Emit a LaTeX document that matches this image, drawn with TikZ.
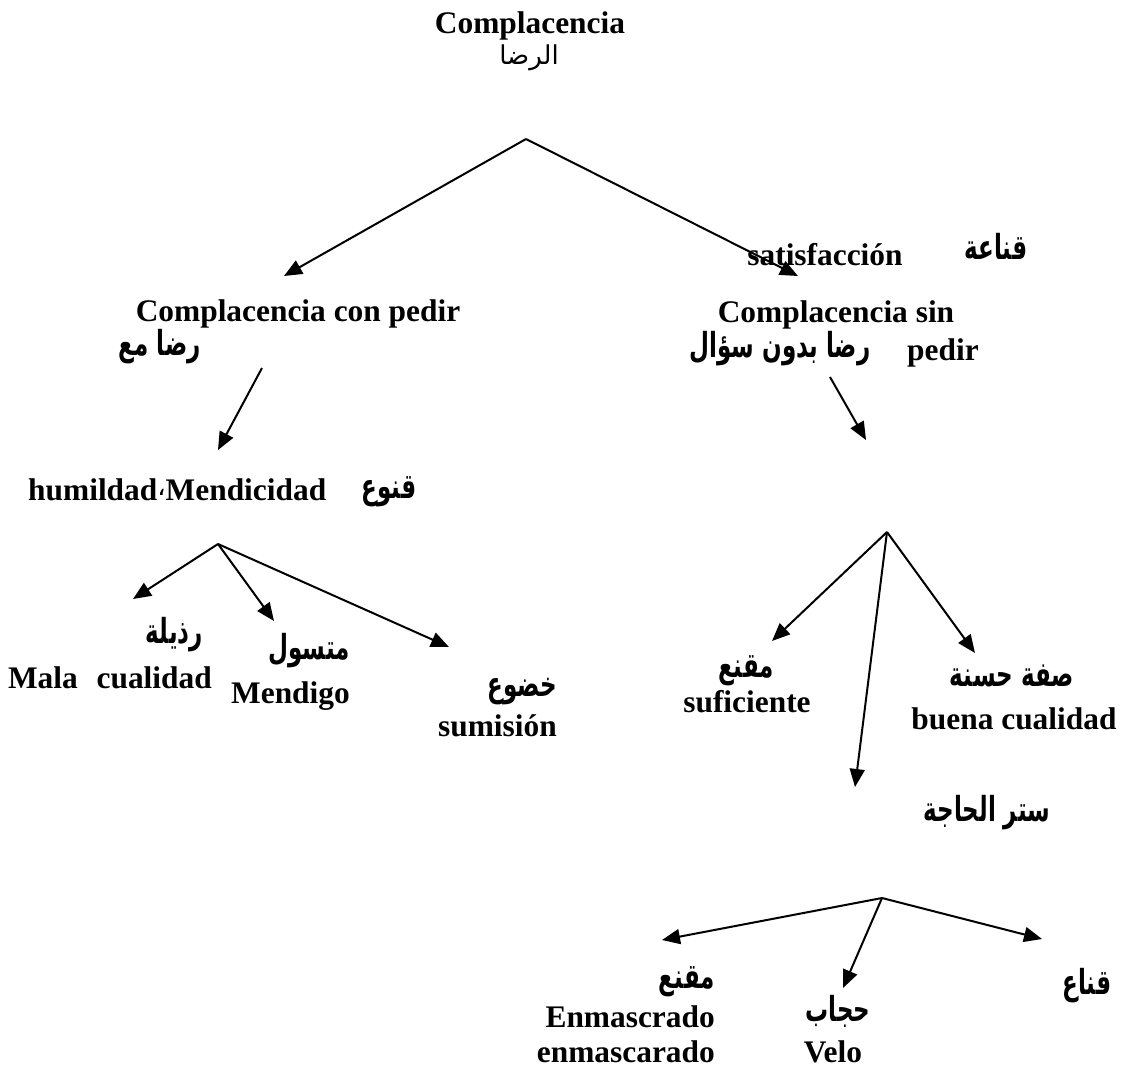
\documentclass[tikz,border=0pt]{standalone}
\usepackage{fontspec}
\usepackage{graphicx}
\setmainfont{Liberation Serif}
\newfontfamily\arabicfont[Script=Arabic]{DejaVu Sans}
\TeXXeTstate=1
\usetikzlibrary{arrows.meta}
\newcommand{\ar}[1]{\scalebox{1}[1.5]{\arabicfont\fontsize{23pt}{26pt}\selectfont\bfseries\beginR #1\endR}}
\newcommand{\arreg}[1]{{\arabicfont\fontsize{26pt}{30pt}\selectfont\beginR #1\endR}}
\begin{document}
\begin{tikzpicture}[x=1pt,y=-1pt,
  lat/.style={font=\fontsize{31.4pt}{36pt}\selectfont\bfseries, inner sep=0pt, anchor=base},
  latr/.style={lat, anchor=base east},
  arb/.style={inner sep=0pt, anchor=base},
  arbr/.style={arb, anchor=base east},
  conn/.style={line width=2pt, -{Triangle[length=18pt,width=15pt]}}]
\useasboundingbox (0,0) rectangle (1128,1069);
% texts
\node[lat] (root) at (530,33) {Complacencia};
\node[arb] (rootar) at (529,64) {\arreg{الرضا}};
\node[lat] (satis) at (825,265) {satisfacción};
\node[arb] (qanaa) at (996,259) {\ar{قناعة}};
\node[lat] (conped) at (298,321) {Complacencia con pedir};
\node[arb] (ridama) at (160,355) {\ar{رضا مع}};
\node[lat] (sinped) at (836,322) {Complacencia sin};
\node[arb] (ridabidun) at (780,357) {\ar{رضا بدون سؤال}};
\node[lat] (pedir) at (943,360) {pedir};
\node[lat, anchor=base west] (humil) at (28,500) {humildad\raisebox{5pt}{\arabicfont\mdseries\fontsize{26pt}{30pt}\selectfont ،}Mendicidad};
\node[arb] (qunu) at (389,498) {\ar{قنوع}};
\node[arbr] (radhila) at (203,643) {\ar{رذيلة}};
\node[latr] (mala) at (212,688) {Mala\hspace{0.6em}cualidad};
\node[arbr] (mutasawil) at (350,659) {\ar{متسول}};
\node[latr] (mendigo) at (350,703) {Mendigo};
\node[arbr] (khudu) at (557,696) {\ar{خضوع}};
\node[latr] (sumision) at (557,736) {sumisión};
\node[arb] (muqni) at (746,677) {\ar{مقنع}};
\node[lat] (sufi) at (747,712) {suficiente};
\node[arb] (sifa) at (1012,686) {\ar{صفة حسنة}};
\node[lat] (buena) at (1014,729) {buena cualidad};
\node[arb] (satr) at (987,821) {\ar{ستر الحاجة}};
\node[arbr] (muqanna) at (715,988) {\ar{مقنع}};
\node[latr] (enmas1) at (715,1027) {Enmascrado};
\node[latr] (enmas2) at (715,1062) {enmascarado};
\node[arb] (hijab) at (838,1021) {\ar{حجاب}};
\node[lat] (velo) at (833,1062) {Velo};
\node[arb] (qina) at (1087,994) {\ar{قناع}};
% connector points
\coordinate (aTop) at (526,139);
\coordinate (tL1) at (284,276);
\coordinate (tR1) at (798,276);
\coordinate (sL2) at (262,368);
\coordinate (tL2) at (218,450);
\coordinate (sR2) at (830,377);
\coordinate (tR2) at (866,440);
\coordinate (aL) at (218,544);
\coordinate (tLa) at (133,599);
\coordinate (tLb) at (274,621);
\coordinate (tLc) at (449,647);
\coordinate (aR) at (887,532);
\coordinate (tRa) at (772,641);
\coordinate (tRb) at (855,787);
\coordinate (tRc) at (975,653);
\coordinate (aB) at (882,898);
\coordinate (tBa) at (662,940);
\coordinate (tBb) at (843,988);
\coordinate (tBc) at (1042,939);
% connectors
\draw[conn] (aTop) -- (tL1);
\draw[conn] (aTop) -- (tR1);
\draw[conn] (sL2) -- (tL2);
\draw[conn] (sR2) -- (tR2);
\draw[conn] (aL) -- (tLa);
\draw[conn] (aL) -- (tLb);
\draw[conn] (aL) -- (tLc);
\draw[conn] (aR) -- (tRa);
\draw[conn] (aR) -- (tRb);
\draw[conn] (aR) -- (tRc);
\draw[conn] (aB) -- (tBa);
\draw[conn] (aB) -- (tBb);
\draw[conn] (aB) -- (tBc);
\end{tikzpicture}
\end{document}
